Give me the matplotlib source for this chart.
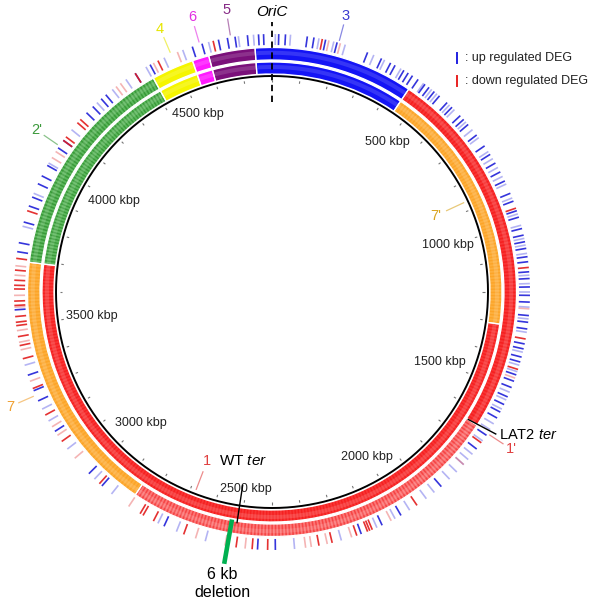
import numpy as np
import matplotlib
matplotlib.use("Agg")
import matplotlib.pyplot as plt
from matplotlib.patches import Wedge
from matplotlib.collections import LineCollection

plt.rcParams['font.family'] = ['Liberation Sans', 'DejaVu Sans']
plt.rcParams['mathtext.fontset'] = 'custom'
plt.rcParams['mathtext.rm'] = 'Liberation Sans'
plt.rcParams['mathtext.it'] = 'Liberation Sans:italic'

GENOME_KBP = 4800
CX, CY = 272, 316          # centre of the map in pixel units (y up)
R_AXIS = 216               # black backbone circle

# ring segments, kbp (start, end, colour)
inner_starts = [-53, 453, 1307, 3693, 4413, 4547, 4600]
inner_ends = [453, 1307, 3693, 4413, 4547, 4600, 4747]
inner_colors = ['blue', 'orange', 'red', 'green', 'yellow', 'magenta', 'purple']

outer_starts = [-53, 453, 1640, 2853, 3693, 4413, 4547, 4600]
outer_ends = [453, 1640, 2853, 3693, 4413, 4547, 4600, 4747]
outer_colors = ['blue', 'red', 'lightred', 'orange', 'green', 'yellow', 'magenta', 'purple']

# DEG positions (kbp)
up_strong = [4560, 4590, 4640, 4667, 4690, 4727, 4760, 4775, 20, 40, 105, 125, 160, 195,
             290, 335, 365, 380, 410, 425, 440,
             460, 485, 500, 520, 540, 570, 590, 625, 640, 660, 700, 740, 770, 800, 830,
             860, 900, 925, 955, 975, 1010, 1030, 1050, 1070, 1095, 1110, 1140, 1160,
             1185, 1210, 1230, 1270, 1290, 1310, 1355, 1370, 1395, 1410, 1450, 1470,
             1490, 1520, 1545, 1570, 1590, 1650, 1700,
             1853, 2000, 2063, 2130, 2390, 2443, 2730,
             2950, 3003, 3164, 3267, 3300, 3349, 3547,
             3720, 3747, 3810, 3860, 3888, 3931, 3957, 3992, 4053, 4080, 4187, 4213,
             4247, 4265, 4373, 4424]
up_weak = [4410, 4470, 4530, 4610, 4700, 4745, 10, 55, 140, 185, 220, 310, 345, 400,
           480, 510, 530, 580, 600, 650, 680, 710, 760, 785, 815, 845, 870, 915, 965,
           1000, 1040, 1060, 1085, 1150, 1175, 1200, 1245, 1280, 1320, 1380, 1420,
           1440, 1505, 1530, 1560, 1610, 1630, 1670, 1720, 1740, 1760, 1790, 1820,
           1880, 1910, 1970, 2020, 2080, 2192, 2333, 2600, 2690, 2750, 2913, 2980,
           3100, 3200, 3240, 3380, 3797, 3900, 4000, 4120, 4230, 4290, 4340]
down_strong = [4450, 4624, 150, 947, 1127, 1340, 1433, 1677, 1944, 2095, 2103, 2110,
               2144, 2220, 2260, 2413, 2459, 2507, 2667, 2765, 2800, 2810, 2960, 3128,
               3220, 3307, 3400, 3440, 3467, 3500, 3510, 3527, 3560, 3573, 3609, 3620,
               3635, 3665, 3700, 3845, 4080, 4093, 4147, 4160, 4373]
down_weak = [4304, 4435, 4513, 170, 205, 1250, 1460, 1760, 2033, 2160, 2235, 2283, 2300,
             2480, 2540, 2630, 2850, 3065, 3150, 3180, 3330, 3427, 3450, 3485, 3555,
             3590, 3650, 3678, 4019, 4040, 4320]

# region labels
region_texts = ['3', '5', '6', '4', "2'", "7'", '7', '1', "1'"]
region_kbp = [200, 4677, 4583, 4493, 4060, 867, 3285, 2680, 1644]
region_colors = ['#3a3ad0', '#862a86', '#e22ee2', '#e6e600', '#3c9a3c',
                 '#d9a520', '#f0a030', '#e04040', '#e04040']
region_inside = [False, False, False, False, False, True, False, True, False]

scale_labels = [500, 1000, 1500, 2000, 2500, 3000, 3500, 4000, 4500]

WT_TER_KBP = 2515
LAT2_TER_KBP = 1640
DELETION_KBP = 2533

# base colour, stripe colour, stripe alpha
palette = {
    'blue': ('#1414f5', None, 0),
    'red': ('#f52020', '#ff5a5a', 0.35),
    'lightred': ('#f54545', '#ff8c8c', 0.7),
    'orange': ('#fca428', '#ffc25e', 0.4),
    'green': ('#3a9a3a', '#66c066', 0.8),
    'yellow': ('#f5f500', None, 0),
    'magenta': ('#ff1aff', None, 0),
    'purple': ('#7a107a', None, 0),
}


def ang(kbp):
    return np.asarray(kbp, dtype=float) / GENOME_KBP * 2 * np.pi


def xy(kbp, r):
    a = ang(kbp)
    return CX + r * np.sin(a), CY + r * np.cos(a)


def radial(kbp, r0, r1):
    x0, y0 = xy(kbp, r0)
    x1, y1 = xy(kbp, r1)
    return np.stack([np.stack([x0, y0], -1), np.stack([x1, y1], -1)], 1)


def draw_ring(ax, starts, ends, colors, r_in, r_out):
    for s, e, c in zip(starts, ends, colors):
        base, stripe, s_alpha = palette[c]
        t1 = 90 - e / GENOME_KBP * 360
        t2 = 90 - s / GENOME_KBP * 360
        ax.add_patch(Wedge((CX, CY), r_out, t1, t2, width=r_out - r_in,
                           facecolor=base, edgecolor='none', zorder=2))
        if stripe is not None:
            pos = np.arange(s + 6, e - 3, 11.0)
            ax.add_collection(LineCollection(radial(pos, r_in, r_out), colors=stripe,
                                             linewidths=1.3, alpha=s_alpha, zorder=3))
        # soft highlight to mimic the shaded tracks
        rm = (r_in + r_out) / 2 + 1
        ax.add_patch(Wedge((CX, CY), rm + 2, t1, t2, width=4,
                           facecolor='white', edgecolor='none', alpha=0.14, zorder=4))
        ax.add_patch(Wedge((CX, CY), r_out, t1, t2, width=r_out - r_in,
                           facecolor='none', edgecolor='white', linewidth=0.9, zorder=5))


fig = plt.figure(figsize=(6, 6.08), dpi=100)
ax = fig.add_axes([0, 0, 1, 1])
ax.set_xlim(0, 600)
ax.set_ylim(0, 608)
ax.axis('off')

# backbone
full = np.linspace(0, GENOME_KBP, 721)
bx, by = xy(full, R_AXIS)
ax.plot(bx, by, color='black', lw=1.4, zorder=6)

draw_ring(ax, inner_starts, inner_ends, inner_colors, 218, 230)
draw_ring(ax, outer_starts, outer_ends, outer_colors, 232, 244.5)

# DEG ticks
deg_sets = [(up_weak, '#5a5ae6', 0.45), (down_weak, '#e85a5a', 0.45),
            (up_strong, '#1f1fd8', 0.9), (down_strong, '#e21b1b', 0.9)]
for pos, col, al in deg_sets:
    ax.add_collection(LineCollection(radial(pos, 247, 258), colors=col,
                                     linewidths=1.2, alpha=al, zorder=3))

# scale ticks and labels
ticks = np.arange(0, GENOME_KBP, 100)
ax.add_collection(LineCollection(radial(ticks, 210, 212.5), colors='#777777',
                                 linewidths=0.8, zorder=6))
for k in scale_labels:
    label = f'{k} kbp'
    a = ang(k)
    half_w = len(label) * 3.2
    support = half_w * abs(np.sin(a)) + 6 * abs(np.cos(a))
    tx, ty = xy(k, 208 - support)
    ax.text(tx, ty, label, fontsize=9, ha='center', va='center', color='#222222', zorder=7)

# region labels with leader lines
for t, k, c, inside in zip(region_texts, region_kbp, region_colors, region_inside):
    if inside:
        seg = radial([k], 192, 212)
        tx, ty = xy(k, 181)
    else:
        seg = radial([k], 260, 277)
        tx, ty = xy(k, 286)
    ax.add_collection(LineCollection(seg, colors=c, linewidths=0.9, alpha=0.6, zorder=7))
    ax.text(tx, ty, t, fontsize=10.5, color=c, ha='center', va='center', zorder=7)

# OriC
ox, oy = xy([0, 0], [190, 270])
ax.plot(ox, oy, color='black', lw=1.3, ls=(0, (3.5, 2.5)), zorder=8)
tx, ty = xy(0, 280)
ax.text(tx, ty, 'OriC', fontsize=11, style='italic', ha='center', va='center', zorder=8)

# WT ter
ax.add_collection(LineCollection(radial([WT_TER_KBP], 195, 234), colors='black',
                                 linewidths=1.0, zorder=8))
tx, ty = xy(WT_TER_KBP + 15, 171)
ax.text(tx, ty, 'WT $\\it{ter}$', fontsize=11, ha='center', va='center', zorder=8)

# LAT2 ter
lx0, ly0 = xy(LAT2_TER_KBP, 234)
lx1, ly1 = xy(LAT2_TER_KBP - 8, 265)
ax.plot([lx0, lx1], [ly0, ly1], color='black', lw=1.0, zorder=8)
tx, ty = xy(LAT2_TER_KBP - 10, 268)
ax.text(tx, ty, 'LAT2 $\\it{ter}$', fontsize=10.5, ha='left', va='center', zorder=8)

# 6 kb deletion
ax.add_collection(LineCollection(radial([DELETION_KBP], 231, 276), colors='#00b050',
                                 linewidths=3.3, zorder=8))
tx, ty = xy(DELETION_KBP - 4, 296)
ax.text(tx, ty, '6 kb\ndeletion', fontsize=11.5, ha='center', va='center',
        linespacing=1.25, zorder=8)

# legend
for yy, col, txt in [(550, '#2020e0', ': up regulated DEG'),
                     (527, '#e82020', ': down regulated DEG')]:
    ax.plot([457, 457], [yy - 5, yy + 5], color=col, lw=1.4)
    ax.text(465, yy, txt, fontsize=9, ha='left', va='center', color='#222222')

fig.savefig('out.png', dpi=100)
